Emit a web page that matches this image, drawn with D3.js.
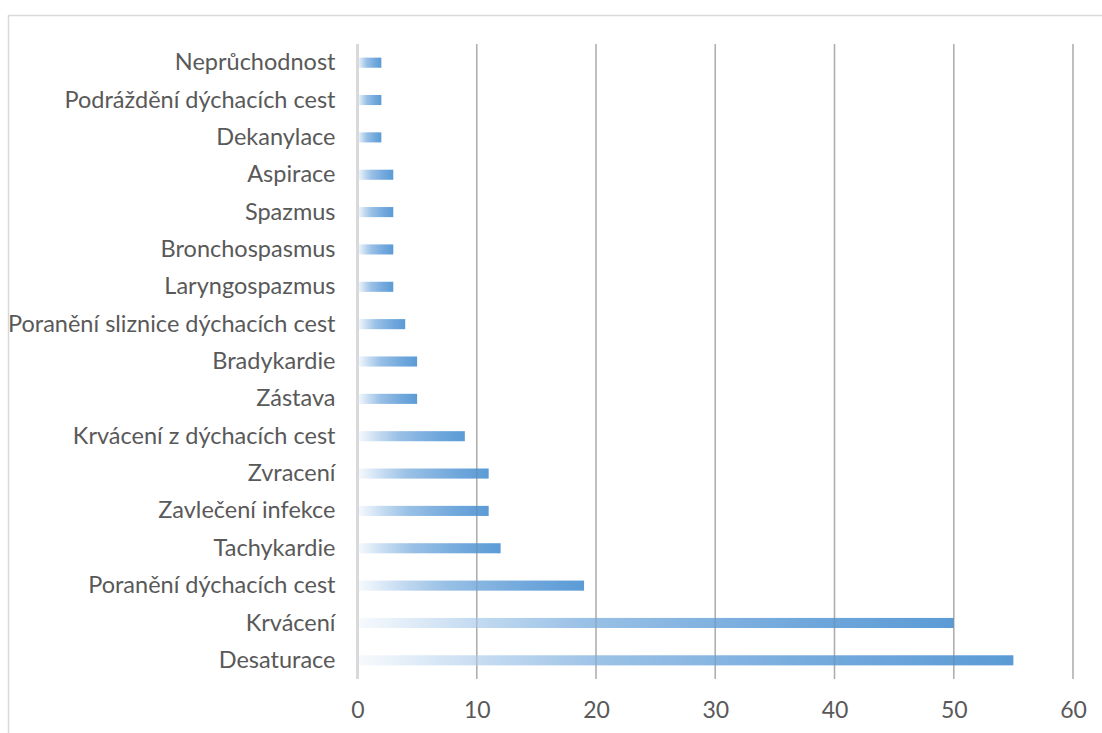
<!DOCTYPE html>
<html>
<head>
<meta charset="utf-8">
<script src="https://cdn.jsdelivr.net/npm/d3@7"></script>
<style>
  html, body { margin: 0; padding: 0; background: #fff; }
  svg { display: block; }
  text { font-family: Lato, "Open Sans", sans-serif; fill: #595959; }
</style>
</head>
<body>
<svg id="chart" width="1102" height="733"></svg>
<script>
// Complications, listed top to bottom
const categories = [
  "Neprůchodnost",
  "Podráždění dýchacích cest",
  "Dekanylace",
  "Aspirace",
  "Spazmus",
  "Bronchospasmus",
  "Laryngospazmus",
  "Poranění sliznice dýchacích cest",
  "Bradykardie",
  "Zástava",
  "Krvácení z dýchacích cest",
  "Zvracení",
  "Zavlečení infekce",
  "Tachykardie",
  "Poranění dýchacích cest",
  "Krvácení",
  "Desaturace"
];
const counts = [2, 2, 2, 3, 3, 3, 3, 4, 5, 5, 9, 11, 11, 12, 19, 50, 55];
const xTicks = [0, 10, 20, 30, 40, 50, 60];

const svg = d3.select("#chart");
const W = 1102, H = 733;
const labelFont = "Lato, 'Open Sans', sans-serif";

// chart area frame
svg.append("path")
  .attr("d", `M${W + 2},15.5 H8.5 V${H + 2}`)
  .attr("fill", "none")
  .attr("stroke", "#d9d9d9")
  .attr("stroke-width", 1.5);

const plot = { left: 357.5, right: 1073, top: 44, bottom: 679 };

const x = d3.scaleLinear().domain([0, 60]).range([plot.left, plot.right]);
const y = d3.scaleBand()
  .domain(categories)
  .range([plot.top, plot.bottom])
  .paddingInner(0.73)
  .paddingOuter(0.365);

// per-bar gradient, pale on the left into blue on the right
const defs = svg.append("defs");
const grad = defs.append("linearGradient")
  .attr("id", "barGrad")
  .attr("x1", "0").attr("y1", "0").attr("x2", "1").attr("y2", "0");
[
  [0, "#f7fafd"],
  [0.2, "#c3daf1"],
  [0.38, "#9ac1e6"],
  [0.56, "#85b4e1"],
  [0.74, "#71a8dc"],
  [1, "#5b9bd5"]
].forEach(([o, c]) => grad.append("stop").attr("offset", o).attr("stop-color", c));

// vertical gridlines (under the bars)
const gridTicks = xTicks.filter(t => t !== 0);
svg.append("g")
  .selectAll("line")
  .data(gridTicks)
  .join("line")
  .attr("x1", d => x(d)).attr("x2", d => x(d))
  .attr("y1", plot.top).attr("y2", plot.bottom)
  .attr("stroke", "#c6c6c6")
  .attr("stroke-width", 1.5);

// bars
svg.append("g")
  .selectAll("rect")
  .data(categories.map((c, i) => ({ c, v: counts[i] })))
  .join("rect")
  .attr("x", x(0))
  .attr("y", d => y(d.c))
  .attr("width", d => x(d.v) - x(0))
  .attr("height", y.bandwidth())
  .attr("fill", "url(#barGrad)");

// gridlines showing faintly through the bars
svg.append("g")
  .selectAll("line")
  .data(gridTicks)
  .join("line")
  .attr("x1", d => x(d)).attr("x2", d => x(d))
  .attr("y1", plot.top).attr("y2", plot.bottom)
  .attr("stroke", "rgba(110,110,110,0.28)")
  .attr("stroke-width", 1.5);

// category axis line at zero
svg.append("line")
  .attr("x1", x(0)).attr("x2", x(0))
  .attr("y1", plot.top).attr("y2", plot.bottom)
  .attr("stroke", "#d9d9d9")
  .attr("stroke-width", 3);

// category labels
const yAxis = d3.axisLeft(y).tickSize(0).tickPadding(22);
const gy = svg.append("g")
  .attr("transform", `translate(${x(0)},0)`)
  .call(yAxis);
gy.select(".domain").remove();
gy.selectAll("text")
  .attr("font-size", 23.5)
  .style("font-family", labelFont)
  .attr("fill", "#595959");

// value axis labels
const xAxis = d3.axisBottom(x).tickValues(xTicks).tickSize(0).tickPadding(22.5);
const gx = svg.append("g")
  .attr("transform", `translate(0,${plot.bottom})`)
  .call(xAxis);
gx.select(".domain").remove();
gx.selectAll("text")
  .attr("font-size", 23)
  .style("font-family", labelFont)
  .attr("fill", "#595959");
</script>
</body>
</html>
